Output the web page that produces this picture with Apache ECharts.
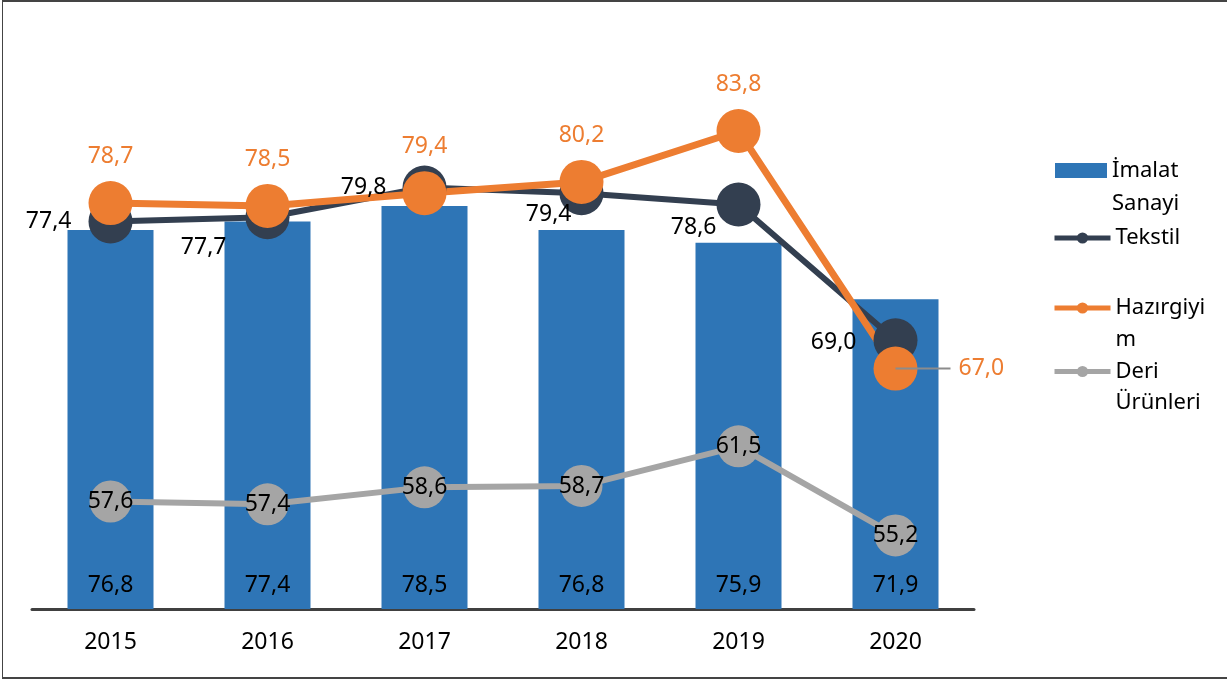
<!DOCTYPE html>
<html>
<head>
<meta charset="utf-8">
<script src="https://cdn.jsdelivr.net/npm/echarts@6/dist/echarts.min.js"></script>
<style>
  html, body { margin: 0; padding: 0; background: #fff; }
  .frame {
    position: absolute; left: 2px; top: 0; width: 1225px; height: 675px;
    border-left: 1px solid #444; border-top: 2px solid #444; border-bottom: 2px solid #444;
  }
  #chart { position: absolute; left: 0; top: 0; width: 1227px; height: 679px; }
</style>
</head>
<body>
<div class="frame"></div>
<div id="chart"></div>
<script>
const years = ["2015", "2016", "2017", "2018", "2019", "2020"];
const imalatSanayi = [76.8, 77.4, 78.5, 76.8, 75.9, 71.9];
const tekstil = [77.4, 77.7, 79.8, 79.4, 78.6, 69.0];
const hazirgiyim = [78.7, 78.5, 79.4, 80.2, 83.8, 67.0];
const deriUrunleri = [57.6, 57.4, 58.6, 58.7, 61.5, 55.2];

// label nudges for the Tekstil values (styling only)
const tekstilLabelOffsets = [[0, 0], [-2, 30], [1, 0], [29, 21], [17, 23], [0, 2]];

const FONT = "Noto Sans";
const FS = 23;
const fmt = (v) => v.toFixed(1).replace(".", ",");

const chart = echarts.init(document.getElementById("chart"));

const legendBase = {
  orient: "vertical",
  padding: 0,
  itemHeight: 14,
  itemWidth: 56,
  itemGap: 0,
  lineStyle: { width: 5 },
  textStyle: { fontFamily: FONT, fontSize: 22, lineHeight: 32, color: "#000" },
};

chart.setOption({
  animation: false,
  textStyle: { fontFamily: FONT },
  grid: { left: 32, right: 253, top: 114, bottom: 70 },
  legend: [
    {
      ...legendBase,
      data: ["İmalat Sanayi"],
      left: 1055,
      top: 121,
      itemWidth: 52,
      itemHeight: 15,
      icon: "rect",
      // leading blank line keeps the first text line level with the icon
      formatter: () => "\nİmalat\nSanayi",
      textStyle: { ...legendBase.textStyle, lineHeight: 33 },
    },
    {
      ...legendBase,
      data: ["Tekstil"],
      left: 1052,
      top: 222,
    },
    {
      ...legendBase,
      data: ["Hazırgiyim"],
      left: 1052,
      top: 260,
      formatter: () => "\nHazırgiyi\nm",
    },
    {
      ...legendBase,
      data: ["Deri Ürünleri"],
      left: 1052,
      top: 325,
      formatter: () => "\nDeri\nÜrünleri",
      textStyle: { ...legendBase.textStyle, lineHeight: 31 },
    },
  ],
  xAxis: {
    type: "category",
    data: years,
    axisTick: { show: false },
    axisLine: { lineStyle: { color: "#404040", width: 3 } },
    axisLabel: { color: "#000", fontSize: FS, margin: 22, fontFamily: FONT },
  },
  yAxis: {
    type: "value",
    min: 50,
    max: 85,
    show: false,
    splitLine: { show: false },
  },
  series: [
    {
      name: "İmalat Sanayi",
      type: "bar",
      data: imalatSanayi,
      barWidth: 86,
      itemStyle: { color: "#2E75B6" },
      label: {
        show: true,
        position: "insideBottom",
        distance: 12,
        color: "#000",
        fontSize: FS,
        formatter: (p) => fmt(p.value),
      },
    },
    {
      name: "Tekstil",
      type: "line",
      data: tekstil.map((v, i) => ({
        value: v,
        label: { offset: tekstilLabelOffsets[i] },
      })),
      symbol: "circle",
      symbolSize: 44,
      itemStyle: { color: "#333F50" },
      lineStyle: { color: "#333F50", width: 6 },
      label: {
        show: true,
        position: "left",
        distance: 17,
        color: "#000",
        fontSize: FS,
        formatter: (p) => fmt(p.value),
      },
    },
    {
      name: "Hazırgiyim",
      type: "line",
      data: hazirgiyim.map((v, i) =>
        i === hazirgiyim.length - 1
          ? {
              value: v,
              label: {
                position: [22, 22],
                align: "left",
                verticalAlign: "middle",
                formatter: (p) => "{l|}{v|" + fmt(p.value) + "}",
              },
            }
          : v
      ),
      symbol: "circle",
      symbolSize: 44,
      itemStyle: { color: "#ED7D31" },
      lineStyle: { color: "#ED7D31", width: 7 },
      label: {
        show: true,
        position: "top",
        distance: 13,
        color: "#ED7D31",
        fontSize: FS,
        formatter: (p) => fmt(p.value),
        rich: {
          l: { width: 55, height: 2, backgroundColor: "#8C8C8C" },
          v: { color: "#ED7D31", fontSize: FS, padding: [0, 0, 0, 8] },
        },
      },
    },
    {
      name: "Deri Ürünleri",
      type: "line",
      data: deriUrunleri,
      symbol: "circle",
      symbolSize: 42,
      itemStyle: { color: "#A5A5A5" },
      lineStyle: { color: "#A5A5A5", width: 6 },
      label: {
        show: true,
        position: "inside",
        color: "#000",
        fontSize: FS,
        formatter: (p) => fmt(p.value),
      },
    },
  ],
});
</script>
</body>
</html>
